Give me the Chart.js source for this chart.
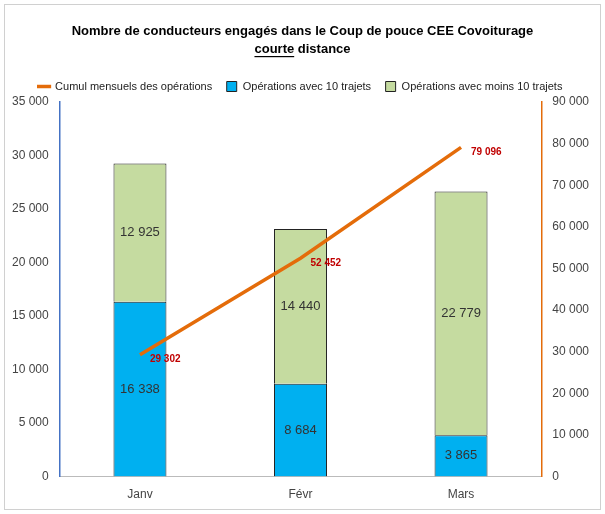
<!DOCTYPE html>
<html><head><meta charset="utf-8">
<script src="https://cdn.jsdelivr.net/npm/chart.js@4"></script>
<style>
body{margin:0;background:#fff;font-family:Calibri,"Liberation Sans",Arial,sans-serif}
#wrap{position:absolute;left:4px;top:4px;width:595px;height:504px;border:1px solid #d0d0d0}
</style></head><body>
<div id="wrap"><canvas id="c"></canvas></div>
<script>
const mois = ['Janv', 'Févr', 'Mars'];
const avec10 = [16338, 8684, 3865];
const moins10 = [12925, 14440, 22779];
const cumul = [29302, 52452, 79096];

const fmt = v => v.toLocaleString('fr-FR').replace(/\u202f|\u00a0/g, ' ');

const valeurs = {
  id: 'valeurs',
  afterDatasetsDraw(chart) {
    const ctx = chart.ctx;
    ctx.save();
    ctx.textAlign = 'center';
    ctx.textBaseline = 'middle';
    [0, 1].forEach(i => {
      chart.getDatasetMeta(i).data.forEach((bar, j) => {
        const y = (bar.y + bar.base) / 2;
        ctx.font = '13px "Liberation Sans", Arial';
        ctx.fillStyle = '#333';
        ctx.fillText(fmt(chart.data.datasets[i].data[j]), bar.x, y);
      });
    });
    ctx.textAlign = 'left';
    ctx.font = 'bold 10px "Liberation Sans", Arial';
    ctx.fillStyle = '#c00000';
    chart.getDatasetMeta(2).data.forEach((pt, j) => {
      ctx.fillText(fmt(cumul[j]), pt.x + 10, pt.y + 5);
    });
    // titre souligné
    ctx.textAlign = 'center';
    ctx.fillStyle = '#000';
    ctx.font = 'bold 13px "Liberation Sans", Arial';
    const cx = chart.width / 2;
    ctx.fillText('Nombre de conducteurs engagés dans le Coup de pouce CEE Covoiturage', cx, 26);
    ctx.fillText('courte distance', cx, 44);
    const w = ctx.measureText('courte distance').width;
    const wc = ctx.measureText('courte').width;
    const x0 = cx - w / 2;
    ctx.fillRect(x0, 51, wc, 1.2);
    ctx.restore();
  }
};

new Chart(document.getElementById('c'), {
  data: {
    labels: mois,
    datasets: [
      { type: 'bar', label: 'Opérations avec 10 trajets', data: avec10, backgroundColor: '#00b0f0', borderColor: '#222', borderWidth: 1, yAxisID: 'y', pointStyle: 'rect', order: 2 },
      { type: 'bar', label: 'Opérations avec moins 10 trajets', data: moins10, backgroundColor: '#c5dba0', borderColor: '#222', borderWidth: 1, yAxisID: 'y', pointStyle: 'rect', order: 2 },
      { type: 'line', label: 'Cumul mensuels des opérations', data: cumul, borderColor: '#e46c0a', backgroundColor: '#e46c0a', borderWidth: 3.5, pointRadius: 0, yAxisID: 'y2', pointStyle: 'line', order: 1 }
    ]
  },
  options: {
    responsive: true, maintainAspectRatio: false, animation: false,
    layout: { padding: { top: 62, left: 4, right: 8, bottom: 4 } },
    plugins: {
      legend: { position: 'top', labels: { usePointStyle: true, boxWidth: 40, boxHeight: 10, font: { size: 11, family: '"Liberation Sans", Arial' }, color: '#222', padding: 14 } },
      tooltip: { enabled: false }
    },
    scales: {
      x: { stacked: true, grid: { display: false }, border: { color: '#bbb' }, ticks: { color: '#444', font: { size: 12 } } },
      y: { stacked: true, min: 0, max: 35000, position: 'left', grid: { display: false }, border: { color: '#4472c4', width: 1.5 },
        ticks: { stepSize: 5000, color: '#444', font: { size: 12 }, callback: v => fmt(v) } },
      y2: { min: 0, max: 90000, position: 'right', grid: { display: false }, border: { color: '#e46c0a', width: 1.5 },
        ticks: { stepSize: 10000, color: '#444', font: { size: 12 }, callback: v => fmt(v) } }
    },
    datasets: { bar: { categoryPercentage: 1, barPercentage: 0.33 } }
  },
  plugins: [valeurs]
});
</script>
</body></html>
